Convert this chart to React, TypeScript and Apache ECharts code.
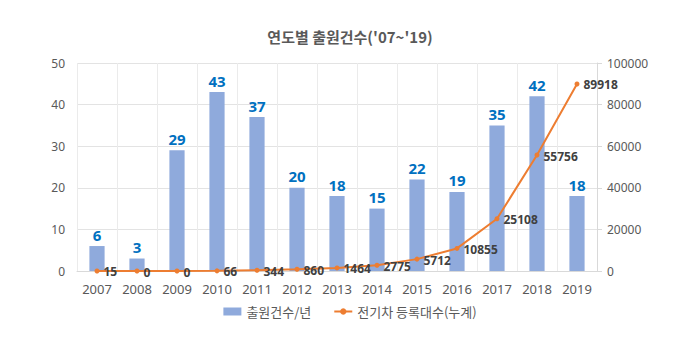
import React, { useEffect, useRef } from "react";
import * as echarts from "echarts";

const years = ["2007", "2008", "2009", "2010", "2011", "2012", "2013", "2014", "2015", "2016", "2017", "2018", "2019"];
const applications = [6, 3, 29, 43, 37, 20, 18, 15, 22, 19, 35, 42, 18];
const evRegistrations = [15, 0, 0, 66, 344, 860, 1464, 2775, 5712, 10855, 25108, 55756, 89918];

const FONT = "'Noto Sans', 'Noto Sans CJK KR', sans-serif";

export default function App() {
  const ref = useRef<HTMLDivElement>(null);
  useEffect(() => {
    if (!ref.current) return;
    const chart = echarts.init(ref.current, undefined, { renderer: "svg" });
    chart.setOption({
      animation: false,
      backgroundColor: "#ffffff",
      textStyle: { fontFamily: FONT },
      title: {
        text: "연도별 출원건수('07~'19)",
        left: "center",
        top: 24,
        textStyle: { fontFamily: "'Noto Sans CJK KR', sans-serif", fontSize: 15, fontWeight: "bold", color: "#595959" },
      },
      legend: {
        top: 300,
        left: "center",
        itemGap: 22,
        itemWidth: 18,
        itemHeight: 8,
        textStyle: { fontFamily: "'Noto Sans CJK KR', sans-serif", fontSize: 13, color: "#595959" },
        data: [
          { name: "출원건수/년", icon: "rect" },
          { name: "전기차 등록대수(누계)" },
        ],
      },
      grid: { left: 77, right: 103, top: 63, bottom: 79 },
      xAxis: {
        type: "category",
        data: years,
        boundaryGap: true,
        axisLine: { lineStyle: { color: "#d9d9d9" } },
        axisTick: { show: false },
        splitLine: { show: true, lineStyle: { color: "#ebebeb" } },
        axisLabel: { color: "#595959", fontSize: 13, margin: 11 },
      },
      yAxis: [
        {
          type: "value",
          min: 0,
          max: 50,
          interval: 10,
          axisLine: { show: false },
          axisTick: { show: false },
          splitLine: { lineStyle: { color: "#e3e3e3" } },
          axisLabel: { color: "#595959", fontSize: 12, margin: 12 },
        },
        {
          type: "value",
          min: 0,
          max: 100000,
          interval: 20000,
          position: "right",
          axisLine: { show: true, lineStyle: { color: "#d9d9d9" } },
          axisTick: { show: true, length: 5, lineStyle: { color: "#d9d9d9" } },
          splitLine: { show: false },
          axisLabel: { color: "#595959", fontSize: 12, margin: 10, formatter: (v: number) => String(v) },
        },
      ],
      series: [
        {
          name: "출원건수/년",
          type: "bar",
          data: applications,
          barWidth: "38%",
          itemStyle: { color: "#8FAADC" },
          label: {
            show: true,
            position: "top",
            distance: 4,
            color: "#0070C0",
            fontWeight: "bold",
            fontSize: 15,
          },
        },
        {
          name: "전기차 등록대수(누계)",
          type: "line",
          yAxisIndex: 1,
          data: evRegistrations,
          symbol: "circle",
          symbolSize: 5,
          lineStyle: { color: "#ED7D31", width: 2 },
          itemStyle: { color: "#ED7D31" },
          label: {
            show: true,
            position: "right",
            distance: 4,
            offset: [0, 1],
            color: "#404040",
            fontWeight: "bold",
            fontSize: 12,
          },
        },
      ],
    });
    return () => chart.dispose();
  }, []);
  return <div ref={ref} style={{ position: "fixed", left: 0, top: 0, width: 700, height: 350 }} />;
}
